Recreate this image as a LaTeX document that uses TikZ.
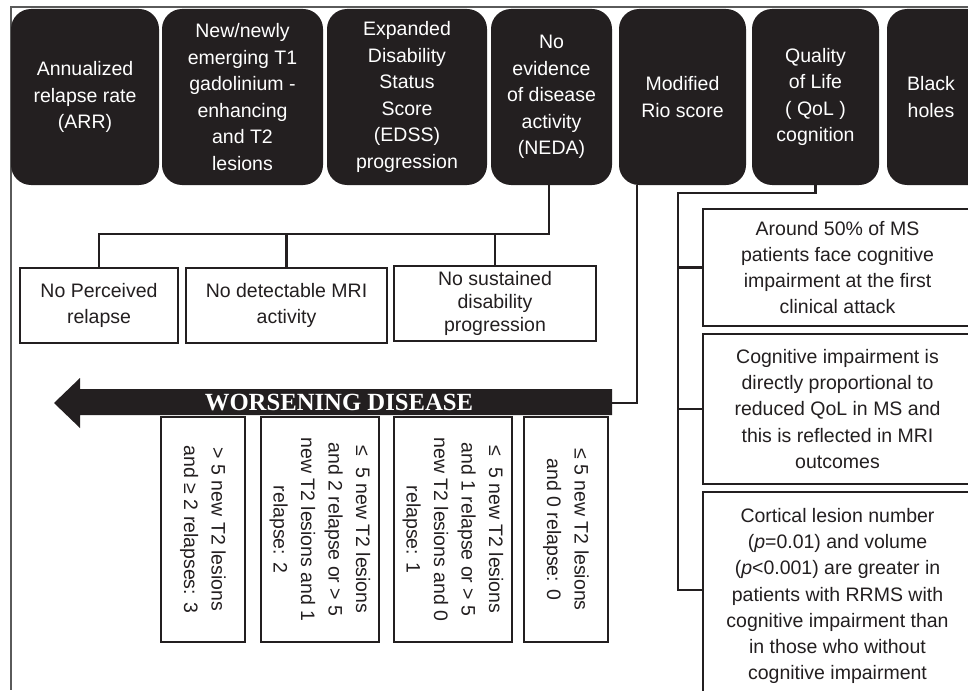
\documentclass[tikz,border=0pt]{standalone}
\usepackage{fontspec}
\setmainfont{Liberation Sans}
\newfontfamily\myarrowfont{Liberation Serif}
\definecolor{ink}{HTML}{231F20}
\definecolor{framegray}{HTML}{5A5A5A}
\newcommand{\myfA}{\fontsize{19.5}{26.5}\selectfont}
\newcommand{\myfB}{\fontsize{19.5}{23}\selectfont}
\newcommand{\myfV}{\fontsize{19.5}{27.5}\selectfont}
\newcommand{\myfR}{\fontsize{19.5}{26.3}\selectfont}
\begin{document}
\begin{tikzpicture}[x=1pt,y=-1pt,
  blk/.style={fill=ink, rounded corners=20pt, text=white, align=center, font=\myfA, inner sep=0pt, minimum height=176pt},
  blktext/.style={text=white, align=center, font=\myfA, inner sep=0pt},
  wbox/.style={draw=ink, line width=2.6pt, fill=white, align=center, inner sep=0pt, text=ink},
  conn/.style={draw=ink, line width=2.6pt},
  framel/.style={draw=framegray, line width=1.4pt}
]
\useasboundingbox (0,0) rectangle (968,690);
\clip (0,0) rectangle (968,690);

% frame
\coordinate (ftr) at (968,7);
\coordinate (ftl) at (11,7);
\coordinate (fbl) at (11,690);
\draw[framel] (ftr) -- (ftl) -- (fbl);

% top black boxes
\node[blk, minimum width=148pt] (arr) at (85,97) {Annualized\\relapse rate\\(ARR)};
\node[blk, minimum width=161pt] (t1) at (242.5,97) {New/newly\\emerging T1\\gadolinium -\\enhancing\\and T2\\lesions};
\node[blk, minimum width=160pt] (edss) at (407,97) {Expanded\\Disability\\Status\\Score\\(EDSS)\\progression};
\node[blk, minimum width=121pt] (neda) at (551.5,97) {No\\evidence\\of disease\\activity\\(NEDA)};
\node[blk, minimum width=127pt] (rio) at (682.5,97) {Modified\\Rio score};
\node[blk, minimum width=127pt] (qol) at (815.5,97) {Quality\\of Life\\( QoL )\\cognition};
\node[blk, minimum width=127pt] (bh) at (950.5,97) {};
\node[blktext] (bht) at (931,97) {Black\\holes};

% connectors
\coordinate (nj) at (549,234);
\coordinate (rj) at (637,403);
\coordinate (atail) at (612,403);
\coordinate (qj) at (678,193);
\coordinate (qb) at (678,590);

% NEDA children
\node[wbox, font=\myfA, minimum width=158pt, minimum height=75pt] (nb1) at (99,305.5) {No Perceived\\relapse};
\node[wbox, font=\myfA, minimum width=201pt, minimum height=75pt] (nb2) at (286.5,305.5) {No detectable MRI\\activity};
\node[wbox, font=\myfB, minimum width=202pt, minimum height=75pt] (nb3) at (495,303.5) {No sustained\\disability\\progression};

\draw[conn] (neda.south -| nj) -- (nj) -| (nb1.north);
\draw[conn] (nb2.north) -- (nb2.north |- nj);
\draw[conn] (nb3.north) -- (nb3.north |- nj);

% Rio score connector
\draw[conn] (rio.south -| rj) -- (rj) -- (atail);

% arrow
\fill[ink] (atail) -- (612,389) -- (80,389) -- (80,378) -- (54,403) -- (80,428) -- (80,415) -- (612,415) -- cycle;
\node[font=\myarrowfont\bfseries\fontsize{24.7}{26}\selectfont, text=white, inner sep=0pt] (wd) at (339,403) {WORSENING DISEASE};

% vertical boxes
\node[wbox, font=\myfV, rotate=-90, minimum width=225pt, minimum height=84pt] (v1) at (203,529.5) {> 5 new T2 lesions\\and ≥ 2 relapses: 3};
\node[wbox, font=\myfV, rotate=-90, minimum width=225pt, minimum height=118pt] (v2) at (320,529.5) {≤~~5 new T2 lesions\\and 2 relapse or > 5\\new T2 lesions and 1\\relapse: 2};
\node[wbox, font=\myfV, rotate=-90, minimum width=225pt, minimum height=118pt] (v3) at (453,529.5) {≤~~5 new T2 lesions\\and 1 relapse or > 5\\new T2 lesions and 0\\relapse: 1};
\node[wbox, font=\myfV, rotate=-90, minimum width=225pt, minimum height=84pt] (v4) at (566,529.5) {≤ 5 new T2 lesions\\and 0 relapse: 0};

% right side boxes
\node[wbox, font=\myfR, minimum width=269pt, minimum height=117pt] (r1) at (837.5,267.5) {Around 50\% of MS\\patients face cognitive\\impairment at the first\\clinical attack};
\node[wbox, font=\myfR, minimum width=269pt, minimum height=150pt] (r2) at (837.5,409) {Cognitive impairment is\\directly proportional to\\reduced QoL in MS and\\this is reflected in MRI\\outcomes};
\node[wbox, font=\myfR, minimum width=269pt, minimum height=208pt] (r3) at (837.5,596) {Cortical lesion number\\(\textit{p}=0.01) and volume\\(\textit{p}<0.001) are greater in\\patients with RRMS with\\cognitive impairment than\\in those who without\\cognitive impairment};

\draw[conn] (qol.south) -- (qol.south |- qj) -- (qj) -- (qb) -- (qb -| r3.west);
\draw[conn] (r1.west) -- (r1.west -| qj);
\draw[conn] (r2.west) -- (r2.west -| qj);
\end{tikzpicture}
\end{document}
